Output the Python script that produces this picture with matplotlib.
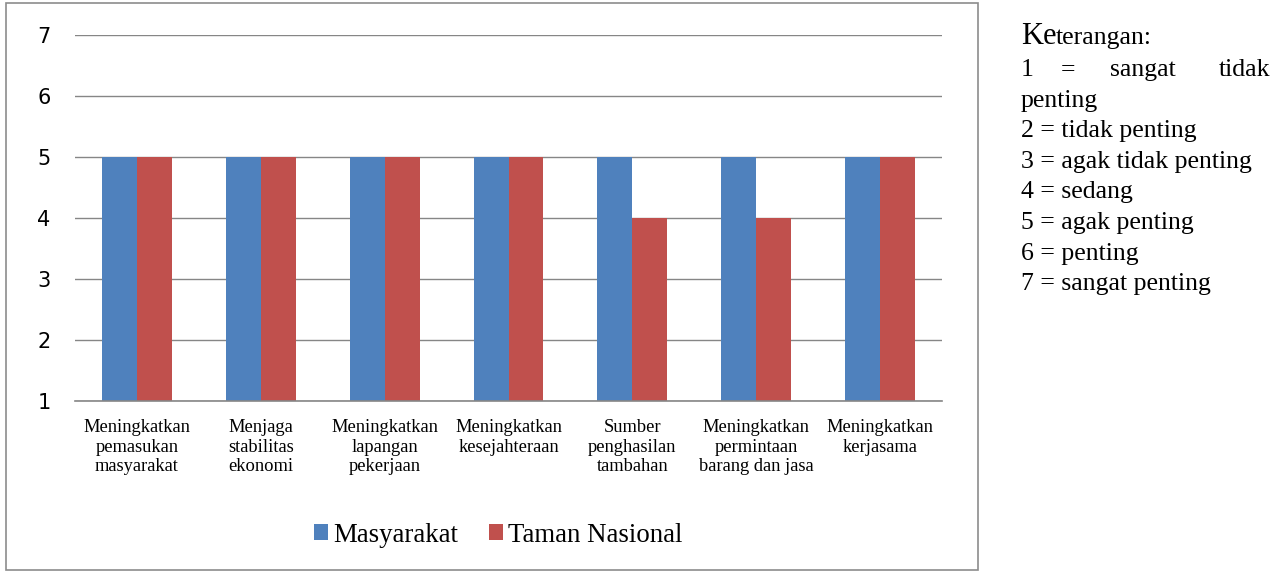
import matplotlib.pyplot as plt
import matplotlib.patches as mpatches
import numpy as np

categories = ['Meningkatkan\npemasukan\nmasyarakat', 'Menjaga\nstabilitas\nekonomi',
              'Meningkatkan\nlapangan\npekerjaan', 'Meningkatkan\nkesejahteraan',
              'Sumber\npenghasilan\ntambahan', 'Meningkatkan\npermintaan\nbarang dan jasa',
              'Meningkatkan\nkerjasama']
masyarakat = [5, 5, 5, 5, 5, 5, 5]
taman_nasional = [5, 5, 5, 5, 4, 4, 5]
series_names = ['Masyarakat', 'Taman Nasional']
yticks = [1, 2, 3, 4, 5, 6, 7]
keterangan = ['2 = tidak penting', '3 = agak tidak penting', '4 = sedang',
              '5 = agak penting', '6 = penting', '7 = sangat penting']

blue = '#4F81BD'
red = '#C0504D'
grid_c = '#868686'
serif = 'Liberation Serif'

W, H = 1282, 571
fig = plt.figure(figsize=(W / 100, H / 100), dpi=100)

# chart frame
fig.add_artist(mpatches.Rectangle((6 / W, 1 - 570 / H), (978 - 6) / W, (570 - 3) / H,
                                  transform=fig.transFigure, fill=False,
                                  edgecolor='#8c8c8c', linewidth=1.2))

ax = fig.add_axes([75 / W, 1 - 401 / H, (942 - 75) / W, (401 - 35) / H])
x = np.arange(len(categories))
w = 0.282
ax.bar(x - w / 2, masyarakat, w, color=blue, label=series_names[0], zorder=2)
ax.bar(x + w / 2, taman_nasional, w, color=red, label=series_names[1], zorder=2)

ax.set_xlim(-0.5, len(categories) - 0.5)
ax.set_ylim(1, 7)
ax.set_yticks(yticks)
ax.set_yticklabels([str(t) for t in yticks], fontsize=15, fontfamily='DejaVu Sans')
ax.tick_params(axis='y', length=0, pad=17.5)
ax.set_xticks(x)
ax.set_xticklabels(categories, fontsize=13.3, fontfamily=serif, linespacing=1.19)
ax.tick_params(axis='x', length=0, pad=13)
ax.grid(axis='y', color=grid_c, linewidth=1, zorder=0)
for s in ['top', 'right', 'left']:
    ax.spines[s].set_visible(False)
ax.spines['bottom'].set_color(grid_c)
ax.spines['bottom'].set_linewidth(1.2)

ax.legend(loc='center', bbox_to_anchor=(498 / W, 1 - 535 / H), bbox_transform=fig.transFigure,
          ncol=2, frameon=False, prop={'family': serif, 'size': 19.3},
          handlelength=0.52, handleheight=0.52, handletextpad=0.2, columnspacing=1.15)

# keterangan text on the right
fs = 18.5
x0 = 1021 / W
fig.text(x0, 1 - 44 / H, 'Ke', fontsize=22, fontfamily=serif, va='baseline')
fig.text(1056 / W, 1 - 44 / H, 'terangan:', fontsize=fs, fontfamily=serif, va='baseline')
y1 = 1 - 70 / H
fig.text(x0, y1, '1', fontsize=fs, fontfamily=serif, va='center')
fig.text(1061 / W, y1, '=', fontsize=fs, fontfamily=serif, va='center')
fig.text(1110 / W, y1, 'sangat', fontsize=fs, fontfamily=serif, va='center')
fig.text(1270 / W, y1, 'tidak', fontsize=fs, fontfamily=serif, va='center', ha='right')
step = 30.6
fig.text(x0, 1 - (70 + step) / H, 'penting', fontsize=fs, fontfamily=serif, va='center')
for i, t in enumerate(keterangan):
    fig.text(x0, 1 - (70 + step * (i + 2)) / H, t, fontsize=fs, fontfamily=serif, va='center')

fig.savefig('out.png', dpi=100)
